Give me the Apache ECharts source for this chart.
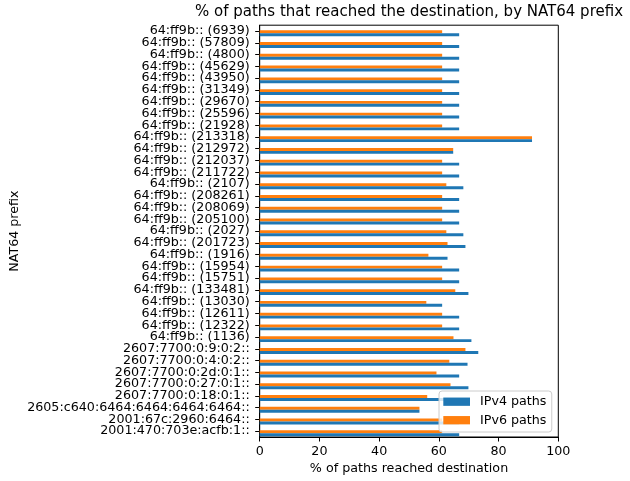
<!DOCTYPE html>
<html>
<head>
<meta charset="utf-8">
<script src="https://cdn.jsdelivr.net/npm/echarts@6/dist/echarts.min.js"></script>
<style>
  html, body { margin: 0; padding: 0; background: #fff; }
  #chart { width: 630px; height: 481px; }
</style>
</head>
<body>
<div id="chart"></div>
<script>
// NAT64 prefixes, listed top to bottom as they appear on the chart
const prefixes = [
  "64:ff9b:: (6939)", "64:ff9b:: (57809)", "64:ff9b:: (4800)", "64:ff9b:: (45629)",
  "64:ff9b:: (43950)", "64:ff9b:: (31349)", "64:ff9b:: (29670)", "64:ff9b:: (25596)",
  "64:ff9b:: (21928)", "64:ff9b:: (213318)", "64:ff9b:: (212972)", "64:ff9b:: (212037)",
  "64:ff9b:: (211722)", "64:ff9b:: (2107)", "64:ff9b:: (208261)", "64:ff9b:: (208069)",
  "64:ff9b:: (205100)", "64:ff9b:: (2027)", "64:ff9b:: (201723)", "64:ff9b:: (1916)",
  "64:ff9b:: (15954)", "64:ff9b:: (15751)", "64:ff9b:: (133481)", "64:ff9b:: (13030)",
  "64:ff9b:: (12611)", "64:ff9b:: (12322)", "64:ff9b:: (1136)",
  "2607:7700:0:9:0:2::", "2607:7700:0:4:0:2::", "2607:7700:0:2d:0:1::",
  "2607:7700:0:27:0:1::", "2607:7700:0:18:0:1::",
  "2605:c640:6464:6464:6464:6464::", "2001:67c:2960:6464::", "2001:470:703e:acfb:1::"
];

// % of paths that reached the destination, same order as prefixes
const ipv4Paths = [
  66.8, 66.8, 66.8, 66.8, 66.8, 66.8, 66.8, 66.8, 66.8,
  91.2, 64.8, 66.8, 66.8, 68.2, 66.8, 66.8, 66.8, 68.2, 68.9, 62.9,
  66.8, 66.8, 69.9, 61.1, 66.8, 66.8, 70.9,
  73.2, 69.6, 66.8, 69.9, 66.8,
  53.5, 66.8, 66.8
];
const ipv6Paths = [
  61.1, 61.1, 61.1, 61.1, 61.1, 61.1, 61.1, 61.1, 61.1,
  91.2, 64.8, 61.1, 61.1, 62.5, 61.1, 61.1, 61.1, 62.5, 62.9, 56.5,
  61.1, 61.1, 65.5, 55.8, 61.1, 61.1, 64.9,
  68.9, 63.5, 59.2, 63.9, 56.1,
  53.5, 61.1, 61.1
];

const xTicks = [0, 20, 40, 60, 80, 100];

const FONT = "DejaVu Sans";
const FS = 12.7;
const chart = echarts.init(document.getElementById("chart"), null, { renderer: "canvas" });

// category axis runs bottom-to-top, so feed the lists reversed
const cats = prefixes.slice().reverse();
const v4 = ipv4Paths.slice().reverse();
const v6 = ipv6Paths.slice().reverse();

chart.setOption({
  animation: false,
  backgroundColor: "#ffffff",
  textStyle: { fontFamily: FONT },
  title: {
    text: "% of paths that reached the destination, by NAT64 prefix",
    left: 409, top: 4.7, padding: 0, textAlign: "center",
    textStyle: { fontFamily: FONT, fontSize: 15, fontWeight: "normal", color: "#000", lineHeight: 15 }
  },
  grid: {
    left: 259.7, right: 630 - 558.3, top: 25.2, bottom: 481 - 437,
    outerBoundsMode: "none", containLabel: false,
    show: true, borderColor: "#000", borderWidth: 1, backgroundColor: "transparent"
  },
  legend: {
    data: ["IPv4 paths", "IPv6 paths"],
    orient: "vertical",
    left: 439, top: 391,
    padding: [3.7, 5.3, 4.8, 4.3],
    itemWidth: 26.7, itemHeight: 8.3, itemGap: 4.5,
    icon: "rect",
    backgroundColor: "rgba(255,255,255,0.8)",
    borderColor: "#cccccc", borderWidth: 1, borderRadius: 3,
    textStyle: { fontFamily: FONT, fontSize: FS, color: "#000", lineHeight: 14, padding: [0, 0, 0, 5] }
  },
  xAxis: {
    type: "value",
    min: xTicks[0], max: xTicks[xTicks.length - 1], interval: 20,
    name: "% of paths reached destination",
    nameLocation: "middle", nameGap: 25.6, nameMoveOverlap: false,
    nameTextStyle: { fontFamily: FONT, fontSize: FS, color: "#000", lineHeight: FS },
    axisLine: { show: true, lineStyle: { color: "#000", width: 1 } },
    axisTick: { show: true, length: 4.5, lineStyle: { color: "#000" } },
    axisLabel: { fontFamily: FONT, fontSize: FS, color: "#000", margin: 8 },
    splitLine: { show: false }
  },
  yAxis: {
    type: "category",
    data: cats,
    name: "NAT64 prefix",
    nameLocation: "middle", nameGap: 239, nameRotate: 90, nameMoveOverlap: false,
    nameTextStyle: { fontFamily: FONT, fontSize: FS, color: "#000", lineHeight: FS },
    axisLine: { show: true, lineStyle: { color: "#000", width: 1 } },
    axisTick: { show: true, length: 4.5, alignWithLabel: true, lineStyle: { color: "#000" } },
    axisLabel: { fontFamily: FONT, fontSize: FS, color: "#000", margin: 10, interval: 0 },
    splitLine: { show: false }
  },
  // bar slots stack from the top of each band downward:
  // an empty slot first, then IPv6 above IPv4
  series: [
    {
      name: "spacer", type: "bar", data: [],
      barWidth: "37%", barGap: "0%", silent: true
    },
    {
      name: "IPv6 paths", type: "bar", data: v6,
      barWidth: "25%", barGap: "0%",
      itemStyle: { color: "#ff7f0e" }
    },
    {
      name: "IPv4 paths", type: "bar", data: v4,
      barWidth: "25%", barGap: "0%",
      itemStyle: { color: "#1f77b4" }
    }
  ]
});
</script>
</body>
</html>
